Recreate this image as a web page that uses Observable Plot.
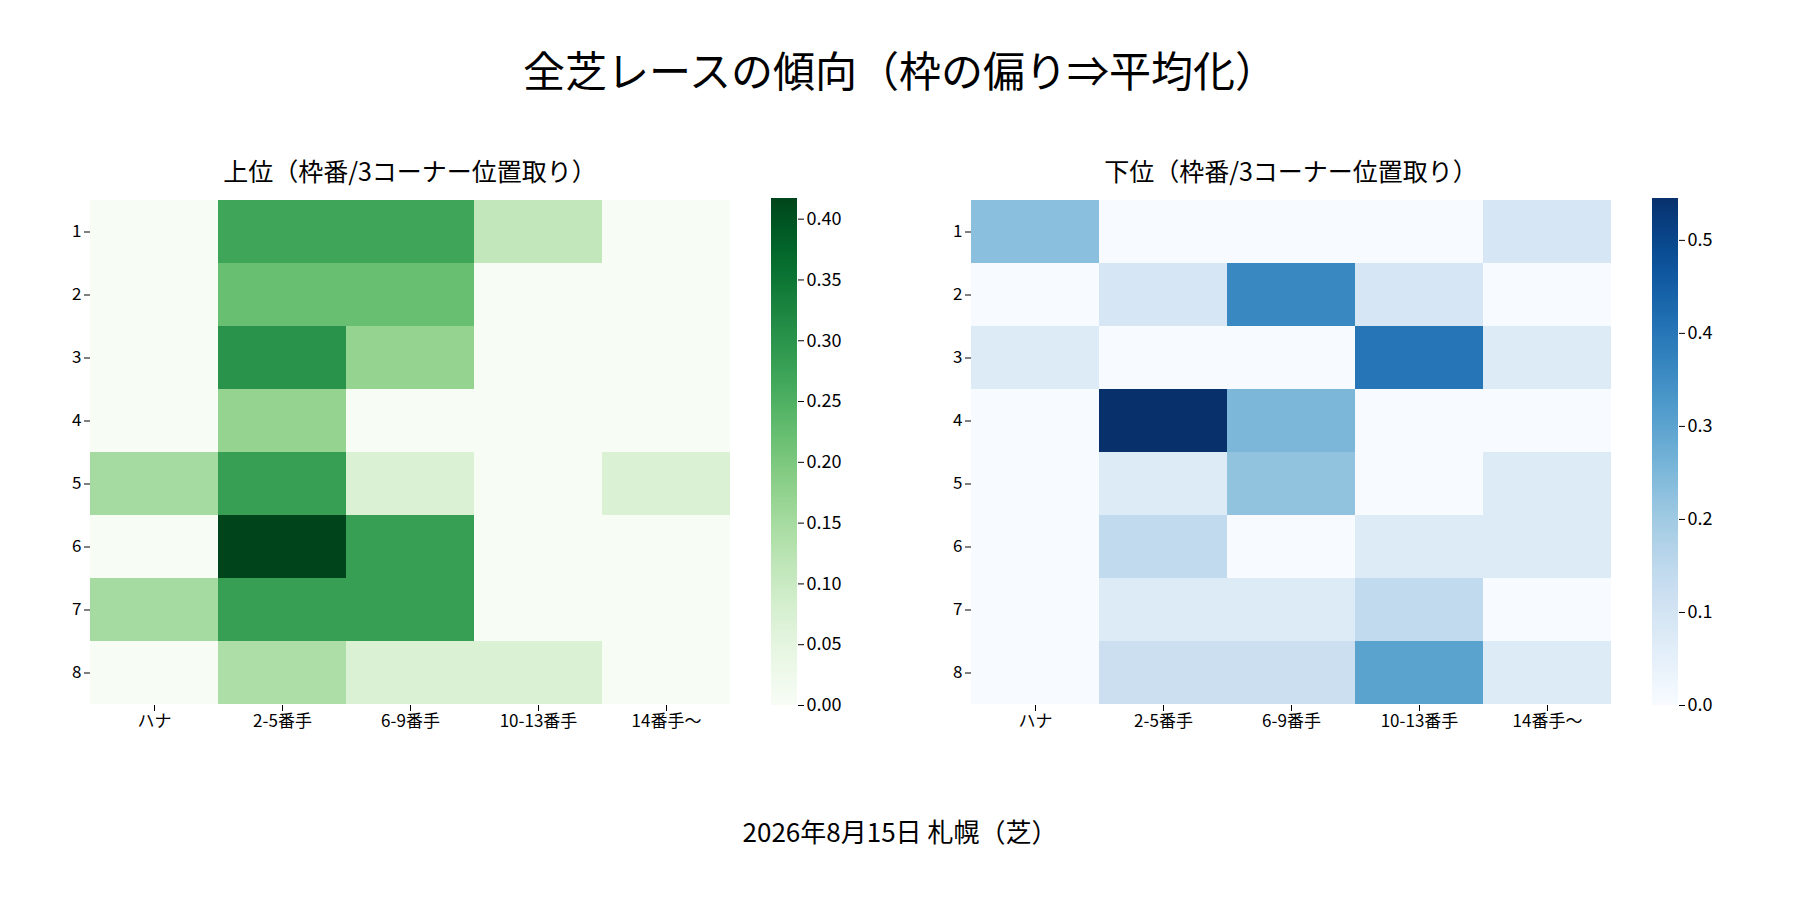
<!DOCTYPE html>
<html><head><meta charset="utf-8">
<script src="https://cdn.jsdelivr.net/npm/d3@7"></script>
<script src="https://cdn.jsdelivr.net/npm/@observablehq/plot@0.6"></script>
<style>
body{margin:0;background:#fff;font-family:"Noto Sans CJK JP",sans-serif;}
#wrap{position:relative;width:1800px;height:900px;}
.abs{position:absolute;}
.t{position:absolute;width:100%;text-align:center;color:#000;}
</style></head><body>
<div id="wrap">
<div class="t" style="top:38px;font-size:42px;">全芝レースの傾向（枠の偏り⇒平均化）</div>
<div class="abs" style="left:90px;width:640px;top:152px;text-align:center;font-size:25px;">上位（枠番/3コーナー位置取り）</div>
<div class="abs" style="left:971px;width:640px;top:152px;text-align:center;font-size:25px;">下位（枠番/3コーナー位置取り）</div>
<div id="h1" class="abs" style="left:30px;top:198px;"></div>
<div id="c1" class="abs" style="left:771px;top:186px;"></div>
<div id="h2" class="abs" style="left:911px;top:198px;"></div>
<div id="c2" class="abs" style="left:1652px;top:186px;"></div>
<div class="t" style="top:812px;font-size:26px;">2026年8月15日 札幌（芝）</div>
</div>
<script>
const positions = ["ハナ","2-5番手","6-9番手","10-13番手","14番手〜"];
const gates = [1,2,3,4,5,6,7,8];
const upper = [
 [0,0.27,0.27,0.11,0],
 [0,0.22,0.22,0,0],
 [0,0.30,0.17,0,0],
 [0,0.17,0,0,0],
 [0.15,0.28,0.07,0,0.07],
 [0,0.417,0.28,0,0],
 [0.15,0.28,0.28,0,0],
 [0,0.14,0.07,0.07,0]
];
const lower = [
 [0.23,0,0,0,0.09],
 [0,0.09,0.36,0.09,0],
 [0.07,0,0,0.40,0.07],
 [0,0.545,0.25,0,0],
 [0,0.07,0.22,0,0.07],
 [0,0.14,0,0.07,0.07],
 [0,0.07,0.07,0.14,0],
 [0,0.12,0.12,0.30,0.07]
];
const upperTicks = [0,0.05,0.10,0.15,0.20,0.25,0.30,0.35,0.40];
const lowerTicks = [0,0.1,0.2,0.3,0.4,0.5];
const font = "Noto Sans CJK JP";

function heat(el, mat, scheme){
  const data = [];
  mat.forEach((row,i)=>row.forEach((v,j)=>data.push({g:gates[i],p:positions[j],v})));
  const max = d3.max(data,d=>d.v);
  const p = Plot.plot({
    width:700, height:557, marginLeft:60, marginRight:0, marginTop:0, marginBottom:50,
    style:{fontFamily:font,fontSize:"17px",color:"#000",background:"transparent"},
    x:{domain:positions,padding:0,label:null,tickSize:6},
    y:{domain:gates,padding:0,label:null,tickSize:6},
    color:{type:"linear",scheme,domain:[0,max]},
    marks:[Plot.cell(data,{x:"p",y:"g",fill:"v"})]
  });
  document.getElementById(el).appendChild(p);
  return max;
}
function bar(el, max, scheme, ticks, fmt){
  const steps = d3.range(0,200).map(i=>({a:max*i/200,b:max*(i+1)/200}));
  const p = Plot.plot({
    width:100, height:531, marginLeft:0, marginRight:74, marginTop:12, marginBottom:12,
    style:{fontFamily:font,fontSize:"18px",color:"#000",background:"transparent"},
    x:{domain:[0,1],axis:null},
    y:{domain:[0,max],axis:"right",ticks,tickFormat:fmt,label:null,tickSize:6},
    color:{type:"linear",scheme,domain:[0,max]},
    marks:[Plot.rect(steps,{x1:0,x2:1,y1:"a",y2:"b",fill:"a",inset:0,shapeRendering:"crispEdges"})]
  });
  document.getElementById(el).appendChild(p);
}
const m1 = heat("h1", upper, "greens");
bar("c1", m1, "greens", upperTicks, d3.format(".2f"));
const m2 = heat("h2", lower, "blues");
bar("c2", m2, "blues", lowerTicks, d3.format(".1f"));
</script>
</body></html>
